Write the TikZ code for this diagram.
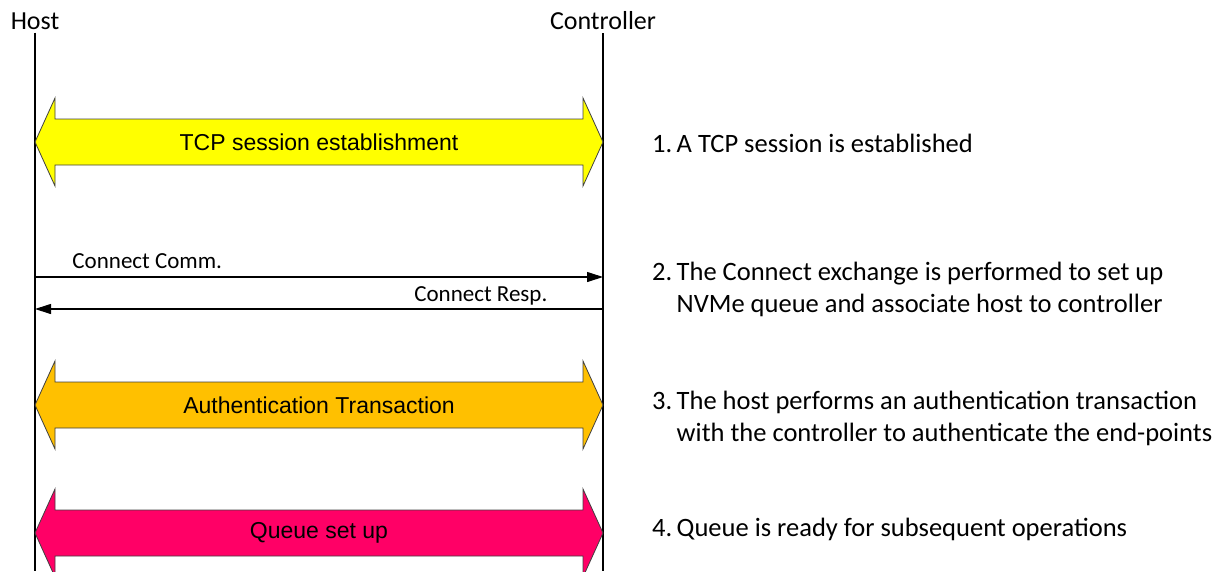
\documentclass[tikz,border=0pt]{standalone}
\usepackage{fontspec}
\setmainfont{Carlito}
\newfontfamily\arialfont{Liberation Sans}
\usetikzlibrary{arrows.meta, calc, positioning}
\definecolor{tcpyellow}{HTML}{FFFF00}
\definecolor{authorange}{HTML}{FFC000}
\definecolor{queuepink}{HTML}{FF0066}

\begin{document}
\begin{tikzpicture}[
        x=1pt, y=-1pt,
        party/.style={font=\fontsize{26}{30}\selectfont, inner sep=3pt},
        lifeline/.style={line width=1.1pt},
        band/.style={draw=black!75, line width=0.8pt, line join=miter},
        bandtext/.style={font=\arialfont\fontsize{23}{27}\selectfont, inner sep=0pt},
        msg/.style={line width=1.1pt, -{Triangle[length=16pt,width=10pt]}},
        msglabel/.style={font=\fontsize{23}{27}\selectfont, inner sep=0pt},
        stepnote/.style={anchor=base west, align=left, font=\fontsize{26.5}{32}\selectfont, inner sep=0pt}
    ]
        \useasboundingbox (0,0) rectangle (1219,571);

        % Participants and lifelines
        \node[party] (host) at (35,21) {Host};
        \node[party] (ctrl) at (603,21) {Controller};
        \coordinate (hostend) at (35,571);
        \coordinate (ctrlend) at (603,571);
        \draw[lifeline] (host.south) -- (hostend);
        \draw[lifeline] (ctrl.south) -- (ctrlend);

        % Block exchanges between the two lifelines
        \foreach \name/\yc/\col/\txt in {
            tcp/142/tcpyellow/TCP session establishment,
            auth/405/authorange/Authentication Transaction,
            queue/533/queuepink/Queue set up} {
            \coordinate (\name-l) at (35,\yc);
            \coordinate (\name-r) at (603,\yc);
            \draw[band, fill=\col] (\name-l) -- ++(20,-44) -- ++(0,21) -- ++(528,0)
                -- ++(0,-21) -- (\name-r) -- ++(-20,44) -- ++(0,-21) -- ++(-528,0)
                -- ++(0,21) -- cycle;
            \node[bandtext] (\name) at ($(\name-l)!0.5!(\name-r)$) {\txt};
        }

        % Connect exchange
        \coordinate (h1) at (35,277);
        \coordinate (c1) at (603,277);
        \coordinate (h2) at (35,309);
        \coordinate (c2) at (603,309);
        \draw[msg] (h1) -- node[msglabel, pos=0.065, anchor=base west, yshift=9pt] {Connect Comm.} (c1);
        \draw[msg] (c2) -- node[msglabel, pos=0.097, anchor=base east, yshift=8pt] {Connect Resp.} (h2);

        % Step notes (base anchor sits on the last line)
        \node[stepnote] (n1) at (652,152) {1.\,A TCP session is established};
        \node[stepnote] (n2) at (652,312) {2.\,The Connect exchange is performed to set up\\\hphantom{2.\,}NVMe queue and associate host to controller};
        \node[stepnote] (n3) at (652,441) {3.\,The host performs an authentication transaction\\\hphantom{3.\,}with the controller to authenticate the end-points};
        \node[stepnote] (n4) at (652,536) {4.\,Queue is ready for subsequent operations};
    \end{tikzpicture}
\end{document}
